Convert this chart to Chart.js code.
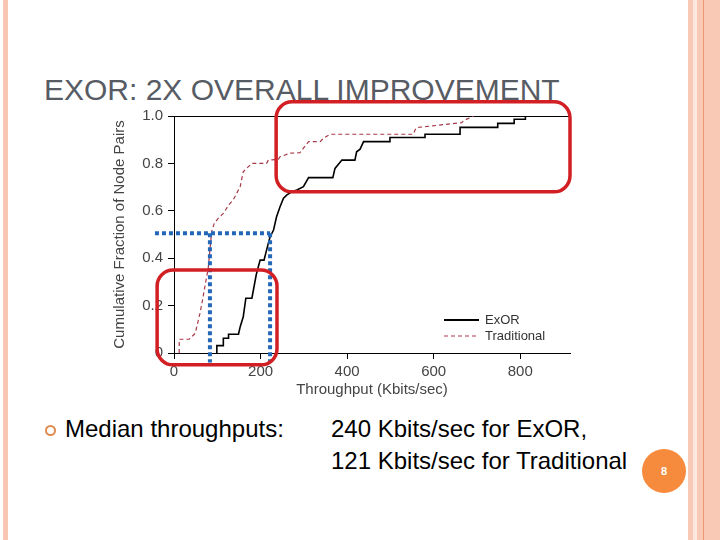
<!DOCTYPE html>
<html>
<head>
<meta charset="utf-8">
<script src="https://cdn.jsdelivr.net/npm/chart.js@4.4.1/dist/chart.umd.min.js"></script>
<style>
  body { margin:0; width:720px; height:540px; overflow:hidden; background:#fff; position:relative; font-family:"Liberation Sans", Arial, sans-serif; }
  .band { position:absolute; top:0; height:540px; }
  #title { position:absolute; left:44px; top:75px; margin:0; font-weight:normal; font-size:30px; line-height:30px; color:#575c64; white-space:nowrap; }
  .txt { position:absolute; font-size:24px; line-height:24px; color:#000; white-space:nowrap; }
  #bullet { position:absolute; left:45px; top:425px; width:7px; height:7px; border:2px solid #e08a4e; border-radius:50%; }
  #page { position:absolute; left:642px; top:449px; width:44px; height:44px; border-radius:50%; background:#f68b3d; color:#fff; font-size:11px; font-weight:bold; text-align:center; line-height:44px; }
  #myChart { position:absolute; left:0; top:0; }
</style>
</head>
<body>
<div class="band" style="left:3px;width:5px;background:#f8c6b3"></div>
<div class="band" style="left:688px;width:32px;background:#f9c9b6"></div>
<div class="band" style="left:693px;width:4px;background:#fde8df"></div>
<div class="band" style="left:703px;width:1px;background:#ee9774"></div>

<h1 id="title">EXOR: 2X OVERALL IMPROVEMENT</h1>
<div id="bullet"></div>
<div class="txt" style="left:65px;top:417px">Median throughputs:</div>
<div class="txt" style="left:331px;top:417px">240 Kbits/sec for ExOR,</div>
<div class="txt" style="left:331px;top:449px">121 Kbits/sec for Traditional</div>
<div id="page">8</div>

<canvas id="myChart" width="720" height="540"></canvas>

<script>
// throughput (Kbits/sec) and cumulative fraction
const exorX = [99, 99, 114, 114, 126, 126, 149, 153, 160, 166, 180, 190, 199, 208, 214, 222, 230, 237, 245, 253, 261, 272, 284, 299, 311, 367, 372, 388, 418, 422, 430, 438, 499, 499, 580, 580, 661, 661, 748, 748, 786, 786, 812, 812]
const exorY = [0, 0.031, 0.031, 0.062, 0.062, 0.079, 0.079, 0.111, 0.153, 0.231, 0.231, 0.33, 0.392, 0.392, 0.435, 0.49, 0.519, 0.575, 0.617, 0.653, 0.667, 0.68, 0.688, 0.702, 0.74, 0.74, 0.779, 0.814, 0.814, 0.849, 0.86, 0.892, 0.892, 0.909, 0.909, 0.923, 0.923, 0.952, 0.952, 0.969, 0.969, 0.986, 0.986, 1.0]

const tradX = [12, 12, 35, 49, 60, 66, 72, 79, 87, 93, 102, 114, 126, 137, 153, 160, 180, 214, 218, 241, 245, 268, 291, 299, 311, 338, 345, 361, 553, 557, 561, 665, 669, 692]
const tradY = [0, 0.058, 0.058, 0.083, 0.167, 0.224, 0.287, 0.357, 0.512, 0.547, 0.568, 0.589, 0.624, 0.646, 0.702, 0.765, 0.8, 0.8, 0.814, 0.817, 0.828, 0.843, 0.845, 0.864, 0.892, 0.892, 0.906, 0.923, 0.923, 0.941, 0.951, 0.972, 0.98, 1.0]

const xTicks = [0, 200, 400, 600, 800]
const yTicks = [0, 0.2, 0.4, 0.6, 0.8, 1.0]

// overlays drawn on the slide, in data units
const boxes = [
    { x0: 236, x1: 915, y0: 1.06, y1: 0.68 },
    { x0: -39, x1: 238, y0: 0.35, y1: -0.05 }
]
const medianLine = { y: 0.505, xStart: -44, xTrad: 83, xExor: 222, yEnd: -0.04 }

const toPoints = (xs, ys) => xs.map((x, i) => ({ x: x, y: ys[i] }))

const overlay = {
    id: 'overlay',
    afterDatasetsDraw(chart) {
        const ctx = chart.ctx
        const sx = chart.scales.x
        const sy = chart.scales.y

        // legend, drawn inside the plot
        const lx = 444, ly = 320
        ctx.save()
        ctx.font = '13px "Liberation Sans", Arial, sans-serif'
        ctx.textBaseline = 'middle'
        chart.data.datasets.forEach((ds, i) => {
            const y = ly + i * 16
            ctx.strokeStyle = ds.borderColor
            ctx.lineWidth = i === 0 ? 2 : 1.2
            ctx.setLineDash(ds.borderDash || [])
            ctx.beginPath()
            ctx.moveTo(lx, y)
            ctx.lineTo(lx + 35, y)
            ctx.stroke()
            ctx.setLineDash([])
            ctx.fillStyle = '#333'
            ctx.fillText(ds.label, lx + 41, y)
        })

        // blue dotted median guides
        ctx.strokeStyle = '#2367b8'
        ctx.lineWidth = 4
        ctx.setLineDash([4, 3])
        ctx.beginPath()
        ctx.moveTo(sx.getPixelForValue(medianLine.xStart), sy.getPixelForValue(medianLine.y))
        ctx.lineTo(sx.getPixelForValue(medianLine.xExor), sy.getPixelForValue(medianLine.y))
        ctx.moveTo(sx.getPixelForValue(medianLine.xTrad), sy.getPixelForValue(medianLine.y))
        ctx.lineTo(sx.getPixelForValue(medianLine.xTrad), sy.getPixelForValue(medianLine.yEnd))
        ctx.moveTo(sx.getPixelForValue(medianLine.xExor), sy.getPixelForValue(medianLine.y))
        ctx.lineTo(sx.getPixelForValue(medianLine.xExor), sy.getPixelForValue(medianLine.yEnd))
        ctx.stroke()
        ctx.setLineDash([])

        // red rounded highlight boxes
        ctx.strokeStyle = '#d21f24'
        ctx.lineWidth = 3.5
        boxes.forEach(b => {
            const x0 = sx.getPixelForValue(b.x0), x1 = sx.getPixelForValue(b.x1)
            const y0 = sy.getPixelForValue(b.y0), y1 = sy.getPixelForValue(b.y1)
            ctx.beginPath()
            ctx.roundRect(x0, y0, x1 - x0, y1 - y0, 16)
            ctx.stroke()
        })
        ctx.restore()
    }
}

const axisFont = { family: '"Liberation Sans", Arial, sans-serif', size: 15 }

new Chart(document.querySelector('#myChart'), {
    type: 'line',
    data: {
        datasets: [
            {
                label: 'ExOR',
                data: toPoints(exorX, exorY),
                borderColor: '#000',
                borderWidth: 1.6,
                pointRadius: 0,
                tension: 0
            },
            {
                label: 'Traditional',
                data: toPoints(tradX, tradY),
                borderColor: '#a83a48',
                borderWidth: 1.2,
                borderDash: [4, 3],
                pointRadius: 0,
                tension: 0
            }
        ]
    },
    options: {
        responsive: false,
        animation: false,
        layout: { padding: { left: 105, top: 116, right: 150, bottom: 137 } },
        plugins: { legend: { display: false }, tooltip: { enabled: false } },
        scales: {
            x: {
                type: 'linear',
                min: 0,
                max: 915,
                afterBuildTicks: s => { s.ticks = xTicks.map(v => ({ value: v })) },
                afterFit: s => { s.height = 50 },
                grid: { drawOnChartArea: false, tickLength: 6, color: '#000' },
                border: { color: '#000', width: 1 },
                ticks: { color: '#444', font: axisFont, padding: 4 },
                title: { display: true, text: 'Throughput (Kbits/sec)', color: '#444', font: axisFont, padding: { top: 0, bottom: 4 } }
            },
            x2: {
                type: 'linear',
                position: 'top',
                min: 0,
                max: 915,
                afterFit: s => { s.height = 0 },
                grid: { display: false },
                border: { color: '#000', width: 1 },
                ticks: { display: false }
            },
            y: {
                min: 0,
                max: 1,
                afterBuildTicks: s => { s.ticks = yTicks.map(v => ({ value: v })) },
                afterFit: s => { s.width = 69 },
                grid: { drawOnChartArea: false, tickLength: 6, color: '#000' },
                border: { color: '#000', width: 1 },
                ticks: { color: '#444', font: axisFont, padding: 5, callback: v => v === 0 ? '0' : v.toFixed(1) },
                title: { display: true, text: 'Cumulative Fraction of Node Pairs', color: '#444', font: axisFont, padding: { top: 6, bottom: 0 } }
            }
        }
    },
    plugins: [overlay]
})
</script>
</body>
</html>
